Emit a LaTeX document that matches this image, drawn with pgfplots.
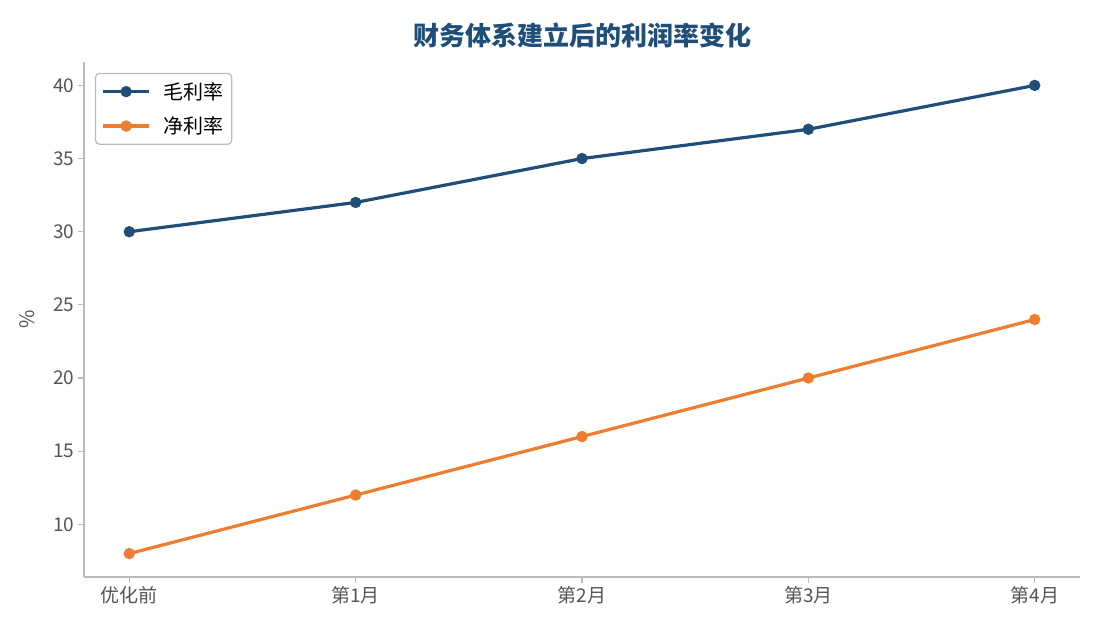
\documentclass[border=0pt]{standalone}
\usepackage{pgfplots}
\pgfplotsset{compat=1.18}
\usepackage{fontspec}
\setmainfont{Noto Sans CJK SC}
\definecolor{gross}{HTML}{1F4E79}
\definecolor{net}{HTML}{ED7D31}
\definecolor{spine}{HTML}{BBBBBB}
\definecolor{ticktext}{HTML}{555555}
\begin{document}
\begin{tikzpicture}
\begin{axis}[
  at={(0,0)}, anchor=south west,
  scale only axis, width=996pt, height=515pt,
  xmin=-0.2, xmax=4.2, ymin=6.4, ymax=41.6,
  axis x line*=bottom, axis y line*=left,
  axis line style={spine, line width=1.2pt},
  xtick={0,1,2,3,4},
  xticklabels={优化前,第1月,第2月,第3月,第4月},
  ytick={10,15,20,25,30,35,40},
  tick style={spine, line width=1.2pt},
  tick align=outside, major tick length=6pt,
  tick label style={font=\fontsize{19}{22}\selectfont, text=ticktext},
  /pgf/number format/assume math mode=true,
  ylabel={\%}, ylabel style={font=\fontsize{20}{24}\selectfont, text=ticktext, yshift=12pt},
  title={财务体系建立后的利润率变化},
  title style={font=\fontsize{26}{30}\selectfont\bfseries, text=gross, yshift=4pt},
  legend style={at={(0.011,0.979)}, anchor=north west, draw=spine,
    rounded corners=4pt, font=\fontsize{20}{24}\selectfont, inner xsep=6pt, inner ysep=7pt,
    /tikz/every odd column/.append style={column sep=11pt},
    row sep=12pt, line width=1.2pt},
  legend cell align=left,
  legend image code/.code={
    \draw[mark repeat=2, mark phase=2] plot coordinates {(0pt,0pt) (23pt,0pt) (46pt,0pt)};},
  every axis plot/.append style={line width=3.2pt, mark=*, mark size=4pt},
]
\addplot[gross, mark options={fill=gross, draw=gross}] coordinates {
  (0,30) (1,32) (2,35) (3,37) (4,40)};
\addlegendentry{毛利率}
\addplot[net, mark options={fill=net, draw=net}] coordinates {
  (0,8) (1,12) (2,16) (3,20) (4,24)};
\addlegendentry{净利率}
\end{axis}
\pgfresetboundingbox
\path (-84pt,-53pt) rectangle (1011pt,577pt);
\end{tikzpicture}
\end{document}
